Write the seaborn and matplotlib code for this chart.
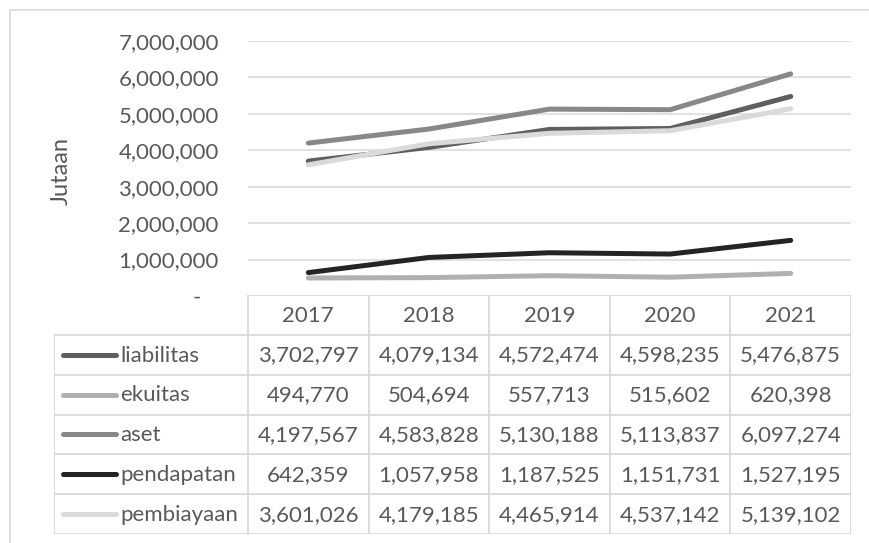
import matplotlib.pyplot as plt
from matplotlib.lines import Line2D
import pandas as pd
import seaborn as sns

years = ["2017", "2018", "2019", "2020", "2021"]
series = ["liabilitas", "ekuitas", "aset", "pendapatan", "pembiayaan"]
liabilitas = [3702797, 4079134, 4572474, 4598235, 5476875]
ekuitas = [494770, 504694, 557713, 515602, 620398]
aset = [4197567, 4583828, 5130188, 5113837, 6097274]
pendapatan = [642359, 1057958, 1187525, 1151731, 1527195]
pembiayaan = [3601026, 4179185, 4465914, 4537142, 5139102]
colors = ["#5f5f5f", "#b0b0b0", "#888888", "#242424", "#dadada"]

values = [liabilitas, ekuitas, aset, pendapatan, pembiayaan]
rows = []
for name, vals in zip(series, values):
    for i, v in enumerate(vals):
        rows.append({"series": name, "idx": i, "value": v})
df = pd.DataFrame(rows)

sns.set_theme(style="white")
plt.rcParams["font.family"] = ["Lato", "DejaVu Sans"]
TXT = "#595959"
GRID = "#d9d9d9"
FS = 16

W, H = 869, 543
fig = plt.figure(figsize=(W / 100, H / 100), dpi=100)


def box(x0, y0, x1, y1):
    return [x0 / W, 1 - y1 / H, (x1 - x0) / W, (y1 - y0) / H]


# chart border (only left/top visible in the crop)
fig.add_artist(Line2D([10 / W, 10 / W], [0, 1 - 10 / H], color=GRID, lw=1.2))
fig.add_artist(Line2D([10 / W, 1], [1 - 10 / H, 1 - 10 / H], color=GRID, lw=1.2))

# line chart
ax = fig.add_axes(box(248, 41, 851, 296))
sns.lineplot(data=df, x="idx", y="value", hue="series", hue_order=series,
             palette=dict(zip(series, colors)), lw=3.6, legend=False, ax=ax,
             solid_capstyle="round")
ax.set_xlim(-0.5, 4.5)
ax.set_ylim(0, 7000000)
ticks = list(range(0, 7000001, 1000000))
ax.set_yticks(ticks)
ax.set_yticklabels(["-   " if t == 0 else f"{t:,}" for t in ticks], color=TXT, fontsize=FS)
ax.set_xticks([])
ax.set_xlabel("")
ax.set_ylabel("")
ax.tick_params(axis="y", length=0, pad=21)
ax.grid(axis="y", color=GRID, lw=1.1)
ax.set_axisbelow(True)
for s in ax.spines.values():
    s.set_visible(False)
fig.text(61 / W, 1 - 171 / H, "Jutaan", rotation=90, ha="center", va="center",
         color=TXT, fontsize=17)

# data table
tx = fig.add_axes(box(54, 295, 851, 534))
colw = (851 - 248) / 5


def xd(px):
    return -0.5 + (px - 248) / colw


left = xd(54)
tx.set_xlim(left, 4.5)
tx.set_ylim(6, 0)
tx.axis("off")
tx.plot([-0.5, 4.5], [0, 0], color=GRID, lw=1.3)
for r in range(1, 7):
    tx.plot([left, 4.5], [r, r], color=GRID, lw=1.3)
tx.plot([left, left], [1, 6], color=GRID, lw=1.3)
for c in range(6):
    tx.plot([c - 0.5, c - 0.5], [0, 6], color=GRID, lw=1.3)

for i, y in enumerate(years):
    tx.text(i, 0.52, y, ha="center", va="center", color=TXT, fontsize=FS)
for r, (name, vals, col) in enumerate(zip(series, values, colors)):
    yy = r + 1.5
    tx.plot([xd(63), xd(116)], [yy, yy], color=col, lw=3.6, solid_capstyle="round")
    tx.text(xd(120), yy + 0.02, name, ha="left", va="center", color=TXT, fontsize=FS)
    for i, v in enumerate(vals):
        tx.text(i, yy + 0.02, f"{v:,}", ha="center", va="center", color=TXT, fontsize=FS)

fig.savefig("out.png", dpi=100)
